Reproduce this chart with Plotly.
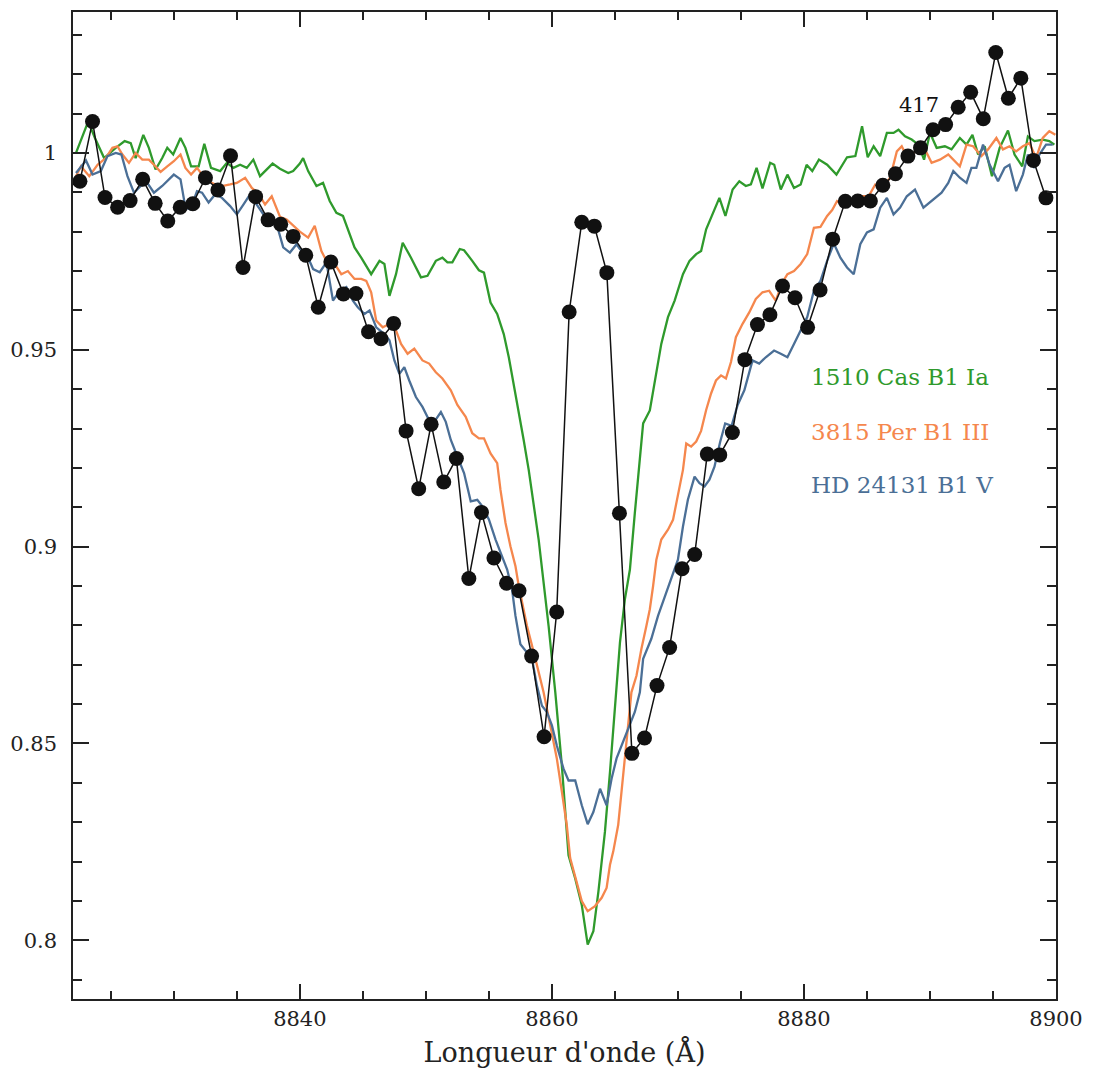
import plotly.graph_objects as go

# --- 417 : observed points (wavelength in Angstrom, normalised flux) ---
wl_417 = [8822.55, 8823.55, 8824.54, 8825.54, 8826.53, 8827.53, 8828.52, 8829.52,
          8830.51, 8831.51, 8832.51, 8833.50, 8834.50, 8835.49, 8836.49, 8837.48,
          8838.48, 8839.47, 8840.47, 8841.46, 8842.46, 8843.46, 8844.45, 8845.45,
          8846.44, 8847.44, 8848.43, 8849.43, 8850.42, 8851.42, 8852.42, 8853.41,
          8854.41, 8855.40, 8856.40, 8857.39, 8858.39, 8859.38, 8860.38, 8861.37,
          8862.37, 8863.37, 8864.36, 8865.36, 8866.35, 8867.35, 8868.34, 8869.34,
          8870.33, 8871.33, 8872.33, 8873.32, 8874.32, 8875.31, 8876.31, 8877.30,
          8878.30, 8879.29, 8880.29, 8881.28, 8882.28, 8883.28, 8884.27, 8885.27,
          8886.26, 8887.26, 8888.25, 8889.25, 8890.24, 8891.24, 8892.24, 8893.23,
          8894.23, 8895.22, 8896.22, 8897.21, 8898.21, 8899.20]
fl_417 = [0.9928, 1.0080, 0.9887, 0.9862, 0.9879, 0.9933, 0.9872, 0.9827,
          0.9862, 0.9871, 0.9937, 0.9906, 0.9993, 0.9709, 0.9889, 0.9830,
          0.9819, 0.9788, 0.9740, 0.9608, 0.9723, 0.9642, 0.9643, 0.9546,
          0.9528, 0.9567, 0.9294, 0.9147, 0.9311, 0.9164, 0.9224, 0.8919,
          0.9087, 0.8971, 0.8907, 0.8888, 0.8722, 0.8517, 0.8834, 0.9596,
          0.9824, 0.9814, 0.9696, 0.9085, 0.8475, 0.8514, 0.8647, 0.8744,
          0.8944, 0.8980, 0.9235, 0.9233, 0.9290, 0.9475, 0.9564, 0.9589,
          0.9662, 0.9632, 0.9557, 0.9652, 0.9781, 0.9877, 0.9878, 0.9878,
          0.9918, 0.9947, 0.9992, 1.0013, 1.0059, 1.0072, 1.0116, 1.0154,
          1.0087, 1.0255, 1.0139, 1.0190, 0.9981, 0.9886]

# --- 1510 Cas, B1 Ia ---
wl_cas = [8822.24, 8823.21, 8823.74, 8824.47, 8825.39, 8826.10, 8826.58, 8826.97,
          8827.58, 8828.02, 8828.55, 8829.08, 8829.48, 8829.95, 8830.53, 8830.92,
          8831.37, 8831.97, 8832.42, 8832.95, 8833.68, 8834.21, 8834.73, 8835.26,
          8835.79, 8836.31, 8836.84, 8837.37, 8837.84, 8838.42, 8839.08, 8839.47,
          8840.00, 8840.26, 8840.66, 8841.32, 8841.84, 8842.37, 8842.90, 8843.42,
          8843.95, 8844.34, 8844.87, 8845.66, 8846.32, 8846.71, 8847.11, 8847.63,
          8848.16, 8848.82, 8849.61, 8850.13, 8850.79, 8851.31, 8851.71, 8852.10,
          8852.69, 8853.03, 8853.68, 8854.21, 8854.61, 8855.13, 8855.66, 8856.18,
          8856.58, 8856.97, 8857.37, 8857.76, 8858.16, 8858.55, 8858.95, 8859.74,
          8860.27, 8860.79, 8861.32, 8861.85, 8862.37, 8862.84, 8863.29, 8863.69,
          8864.21, 8864.61, 8865.00, 8865.40, 8865.79, 8866.19, 8866.58, 8867.24,
          8867.77, 8868.16, 8868.68, 8869.21, 8869.74, 8870.40, 8870.92, 8871.45,
          8871.84, 8872.24, 8872.76, 8873.29, 8873.77, 8874.34, 8874.87, 8875.39,
          8875.79, 8876.24, 8876.71, 8877.32, 8877.64, 8878.16, 8878.69, 8879.21,
          8879.74, 8880.21, 8880.66, 8881.19, 8881.84, 8882.58, 8883.42, 8884.08,
          8884.61, 8885.06, 8885.53, 8886.05, 8886.58, 8887.11, 8887.50, 8888.02,
          8888.55, 8889.08, 8889.53, 8890.00, 8890.53, 8891.18, 8891.71, 8892.37,
          8892.90, 8893.37, 8893.82, 8894.34, 8894.92, 8895.53, 8896.19, 8896.71,
          8897.32, 8897.77, 8898.29, 8898.95, 8899.47, 8899.87]
fl_cas = [1.0000, 1.0080, 1.0038, 0.9987, 1.0013, 1.0030, 1.0025, 0.9987,
          1.0046, 1.0013, 0.9958, 0.9987, 1.0013, 0.9996, 1.0038, 1.0013,
          0.9966, 0.9966, 1.0023, 0.9962, 0.9954, 0.9975, 0.9962, 0.9970,
          0.9962, 0.9983, 0.9941, 0.9958, 0.9973, 0.9960, 0.9949, 0.9954,
          0.9973, 0.9987, 0.9954, 0.9916, 0.9924, 0.9878, 0.9848, 0.9840,
          0.9794, 0.9760, 0.9734, 0.9692, 0.9726, 0.9718, 0.9637, 0.9692,
          0.9772, 0.9734, 0.9684, 0.9688, 0.9726, 0.9734, 0.9722, 0.9722,
          0.9756, 0.9753, 0.9726, 0.9702, 0.9696, 0.9620, 0.9591, 0.9540,
          0.9481, 0.9414, 0.9338, 0.9271, 0.9195, 0.9110, 0.9018, 0.8798,
          0.8630, 0.8444, 0.8216, 0.8157, 0.8090, 0.7989, 0.8023, 0.8124,
          0.8276, 0.8428, 0.8596, 0.8756, 0.8866, 0.8942, 0.9085, 0.9313,
          0.9346, 0.9414, 0.9515, 0.9583, 0.9625, 0.9692, 0.9726, 0.9743,
          0.9751, 0.9806, 0.9848, 0.9886, 0.9840, 0.9907, 0.9928, 0.9916,
          0.9920, 0.9962, 0.9910, 0.9975, 0.9970, 0.9907, 0.9945, 0.9911,
          0.9920, 0.9970, 0.9954, 0.9983, 0.9970, 0.9945, 0.9989, 0.9992,
          1.0068, 0.9989, 1.0017, 0.9992, 1.0051, 1.0051, 1.0059, 1.0042,
          1.0034, 1.0021, 0.9983, 1.0051, 1.0013, 1.0017, 1.0009, 1.0038,
          1.0021, 1.0046, 0.9996, 1.0017, 0.9941, 1.0013, 1.0057, 0.9996,
          0.9966, 1.0042, 1.0030, 1.0034, 1.0030, 1.0021]

# --- 3815 Per, B1 III ---
wl_per = [8822.24, 8822.63, 8823.29, 8823.95, 8824.60, 8825.13, 8825.53, 8825.92,
          8826.44, 8826.97, 8827.50, 8828.02, 8828.42, 8828.95, 8829.48, 8830.00,
          8830.53, 8830.92, 8831.37, 8831.84, 8832.24, 8832.76, 8833.29, 8833.82,
          8834.47, 8835.00, 8835.66, 8836.19, 8836.71, 8837.24, 8837.77, 8838.42,
          8838.95, 8839.47, 8840.00, 8840.66, 8841.18, 8841.71, 8842.23, 8842.76,
          8843.29, 8843.81, 8844.34, 8844.87, 8845.27, 8845.66, 8846.06, 8846.58,
          8847.11, 8847.63, 8848.03, 8848.55, 8849.08, 8849.73, 8850.26, 8850.79,
          8851.31, 8851.98, 8852.50, 8853.16, 8853.68, 8854.21, 8854.61, 8855.13,
          8855.66, 8855.92, 8856.32, 8856.71, 8857.11, 8857.37, 8858.02, 8858.69,
          8859.34, 8859.87, 8860.39, 8860.79, 8861.18, 8861.45, 8861.85, 8862.37,
          8862.84, 8863.42, 8863.95, 8864.34, 8864.61, 8864.87, 8865.26, 8865.52,
          8865.79, 8866.05, 8866.31, 8866.71, 8867.10, 8867.50, 8867.77, 8868.03,
          8868.29, 8868.68, 8869.21, 8869.61, 8870.00, 8870.40, 8870.66, 8871.05,
          8871.45, 8871.84, 8872.24, 8872.63, 8873.02, 8873.42, 8873.81, 8874.21,
          8874.60, 8875.13, 8875.66, 8876.18, 8876.71, 8877.24, 8877.76, 8878.29,
          8878.69, 8879.21, 8879.74, 8880.26, 8880.79, 8881.31, 8881.84, 8882.24,
          8882.63, 8883.16, 8883.68, 8884.21, 8885.13, 8885.66, 8886.32, 8886.84,
          8887.37, 8887.76, 8888.29, 8888.95, 8889.48, 8890.13, 8890.79, 8891.45,
          8892.37, 8892.90, 8893.42, 8894.08, 8894.61, 8895.27, 8895.79, 8896.31,
          8896.84, 8897.37, 8897.89, 8898.42, 8898.95, 8899.47, 8899.95]
fl_per = [0.9941, 0.9966, 0.9941, 0.9970, 0.9987, 1.0013, 1.0017, 0.9996,
          0.9975, 1.0000, 0.9983, 0.9983, 0.9970, 0.9952, 0.9966, 0.9979,
          0.9996, 0.9962, 0.9945, 0.9962, 0.9945, 0.9928, 0.9920, 0.9916,
          0.9920, 0.9924, 0.9937, 0.9911, 0.9897, 0.9869, 0.9890, 0.9838,
          0.9831, 0.9815, 0.9800, 0.9785, 0.9815, 0.9751, 0.9718, 0.9718,
          0.9692, 0.9700, 0.9680, 0.9680, 0.9675, 0.9646, 0.9574, 0.9557,
          0.9566, 0.9549, 0.9515, 0.9490, 0.9503, 0.9473, 0.9465, 0.9443,
          0.9427, 0.9397, 0.9360, 0.9330, 0.9288, 0.9275, 0.9275, 0.9237,
          0.9212, 0.9144, 0.9060, 0.9001, 0.8950, 0.8900, 0.8799, 0.8715,
          0.8630, 0.8546, 0.8462, 0.8378, 0.8293, 0.8209, 0.8159, 0.8100,
          0.8074, 0.8087, 0.8108, 0.8133, 0.8192, 0.8226, 0.8293, 0.8378,
          0.8462, 0.8546, 0.8630, 0.8672, 0.8740, 0.8799, 0.8841, 0.8900,
          0.8967, 0.9018, 0.9043, 0.9068, 0.9128, 0.9195, 0.9262, 0.9254,
          0.9267, 0.9294, 0.9347, 0.9389, 0.9422, 0.9435, 0.9427, 0.9469,
          0.9532, 0.9566, 0.9595, 0.9629, 0.9646, 0.9650, 0.9625, 0.9671,
          0.9692, 0.9700, 0.9718, 0.9743, 0.9810, 0.9812, 0.9840, 0.9855,
          0.9878, 0.9869, 0.9878, 0.9890, 0.9890, 0.9920, 0.9916, 0.9937,
          1.0004, 1.0017, 0.9983, 1.0009, 1.0017, 0.9975, 0.9983, 0.9996,
          0.9966, 1.0021, 1.0017, 0.9992, 1.0009, 1.0038, 1.0009, 1.0017,
          1.0004, 1.0017, 1.0025, 0.9987, 1.0038, 1.0055, 1.0046]

# --- HD 24131, B1 V ---
wl_hd = [8822.24, 8823.03, 8823.55, 8824.21, 8824.74, 8825.39, 8825.84, 8826.32,
         8826.84, 8827.37, 8827.90, 8828.42, 8829.08, 8829.48, 8830.00, 8830.53,
         8830.92, 8831.32, 8831.84, 8832.24, 8832.76, 8833.29, 8833.82, 8834.47,
         8835.00, 8835.52, 8836.05, 8836.58, 8837.10, 8837.63, 8838.16, 8838.68,
         8839.21, 8839.74, 8840.00, 8840.53, 8841.05, 8841.58, 8842.11, 8842.63,
         8843.16, 8843.69, 8844.21, 8844.60, 8845.13, 8845.53, 8846.06, 8846.71,
         8847.11, 8847.50, 8847.90, 8848.29, 8848.68, 8849.21, 8849.73, 8850.26,
         8850.66, 8851.19, 8851.58, 8851.98, 8852.50, 8853.03, 8853.56, 8854.08,
         8854.47, 8855.00, 8855.53, 8856.05, 8856.45, 8856.84, 8857.11, 8857.50,
         8858.02, 8858.42, 8858.81, 8859.21, 8859.60, 8860.00, 8860.39, 8860.92,
         8861.32, 8861.85, 8862.37, 8862.84, 8863.29, 8863.82, 8864.34, 8864.74,
         8865.13, 8865.52, 8866.05, 8866.58, 8866.98, 8867.24, 8867.89, 8868.42,
         8869.08, 8869.61, 8870.00, 8870.40, 8870.79, 8871.32, 8871.71, 8872.11,
         8872.50, 8872.90, 8873.35, 8873.75, 8874.26, 8874.74, 8875.27, 8875.92,
         8876.45, 8876.97, 8877.63, 8878.16, 8878.69, 8879.21, 8879.74, 8880.26,
         8880.79, 8881.31, 8881.84, 8882.37, 8882.89, 8883.42, 8883.95, 8884.47,
         8885.00, 8885.53, 8886.05, 8886.58, 8887.11, 8887.63, 8888.16, 8888.81,
         8889.48, 8890.13, 8890.92, 8891.45, 8891.85, 8892.37, 8892.90, 8893.29,
         8893.68, 8894.21, 8894.74, 8895.40, 8895.92, 8896.31, 8896.84, 8897.37,
         8897.77, 8898.29, 8898.68, 8899.21, 8899.74]
fl_hd = [0.9949, 0.9981, 0.9945, 0.9954, 0.9992, 1.0000, 0.9996, 0.9941,
         0.9899, 0.9916, 0.9924, 0.9899, 0.9916, 0.9928, 0.9945, 0.9933,
         0.9861, 0.9857, 0.9903, 0.9899, 0.9874, 0.9895, 0.9886, 0.9865,
         0.9844, 0.9869, 0.9895, 0.9869, 0.9844, 0.9819, 0.9819, 0.9760,
         0.9747, 0.9768, 0.9756, 0.9743, 0.9705, 0.9697, 0.9722, 0.9625,
         0.9650, 0.9659, 0.9625, 0.9608, 0.9591, 0.9600, 0.9557, 0.9540,
         0.9524, 0.9473, 0.9439, 0.9456, 0.9422, 0.9380, 0.9355, 0.9321,
         0.9317, 0.9342, 0.9317, 0.9271, 0.9229, 0.9187, 0.9115, 0.9119,
         0.9103, 0.9069, 0.9018, 0.8975, 0.8942, 0.8891, 0.8824, 0.8752,
         0.8731, 0.8715, 0.8647, 0.8596, 0.8580, 0.8546, 0.8495, 0.8436,
         0.8406, 0.8406, 0.8343, 0.8295, 0.8326, 0.8385, 0.8343, 0.8411,
         0.8462, 0.8495, 0.8538, 0.8580, 0.8630, 0.8715, 0.8766, 0.8824,
         0.8884, 0.8934, 0.8967, 0.9051, 0.9119, 0.9178, 0.9161, 0.9153,
         0.9170, 0.9203, 0.9266, 0.9313, 0.9307, 0.9360, 0.9397, 0.9473,
         0.9465, 0.9481, 0.9498, 0.9490, 0.9481, 0.9515, 0.9549, 0.9583,
         0.9650, 0.9675, 0.9726, 0.9770, 0.9734, 0.9709, 0.9692, 0.9768,
         0.9798, 0.9806, 0.9861, 0.9886, 0.9844, 0.9861, 0.9890, 0.9907,
         0.9861, 0.9878, 0.9899, 0.9924, 0.9954, 0.9937, 0.9924, 0.9962,
         0.9962, 1.0021, 0.9970, 0.9928, 0.9962, 0.9970, 0.9903, 0.9945,
         0.9996, 0.9962, 0.9996, 1.0021, 1.0021]

x_ticks = [8840, 8860, 8880, 8900]
y_ticks = [0.8, 0.85, 0.9, 0.95, 1.0]
y_tick_text = ["0.8", "0.85", "0.9", "0.95", "1"]

GREEN = "#2f9a2c"
ORANGE = "#f5874d"
BLUE = "#4b6f96"
FONT = "DejaVu Serif"

fig = go.Figure()
fig.add_trace(go.Scatter(x=wl_cas, y=fl_cas, mode="lines",
                         line=dict(color=GREEN, width=2.3), name="1510 Cas B1 Ia"))
fig.add_trace(go.Scatter(x=wl_per, y=fl_per, mode="lines",
                         line=dict(color=ORANGE, width=2.3), name="3815 Per B1 III"))
fig.add_trace(go.Scatter(x=wl_hd, y=fl_hd, mode="lines",
                         line=dict(color=BLUE, width=2.3), name="HD 24131 B1 V"))
fig.add_trace(go.Scatter(x=wl_417, y=fl_417, mode="lines+markers",
                         line=dict(color="#111111", width=1.5),
                         marker=dict(color="#111111", size=15), name="417"))

# star labels placed in data coordinates
labels = [
    (8880.4, 0.9430, "1510 Cas B1 Ia", GREEN, 23),
    (8880.4, 0.9291, "3815 Per B1 III", ORANGE, 23),
    (8880.4, 0.9157, "HD 24131 B1 V", BLUE, 23),
    (8887.4, 1.0123, "417", "#111111", 21),
]
for lx, ly, txt, col, sz in labels:
    fig.add_annotation(x=lx, y=ly, text=txt, showarrow=False, xanchor="left",
                       yanchor="middle", font=dict(family=FONT, size=sz, color=col))

axis_common = dict(showline=True, linecolor="#222222", linewidth=1.5,
                   mirror="allticks", ticks="inside", tickcolor="#222222",
                   tickwidth=1.5, showgrid=False, zeroline=False,
                   tickfont=dict(family=FONT, size=21, color="#222222"))

fig.update_xaxes(range=[8822.0, 8900.0], tickvals=x_ticks, ticklen=15,
                 minor=dict(dtick=5, tick0=8820, ticklen=8, ticks="inside",
                            tickcolor="#222222", tickwidth=1.5, showgrid=False),
                 title=dict(text="Longueur d'onde (Å)", standoff=13,
                            font=dict(family=FONT, size=27, color="#222222")),
                 **axis_common)
fig.update_yaxes(range=[0.7851, 1.0358], tickvals=y_ticks, ticktext=y_tick_text,
                 ticklen=16, ticklabelstandoff=10,
                 minor=dict(dtick=0.01, tick0=0.8, ticklen=9, ticks="inside",
                            tickcolor="#222222", tickwidth=1.5, showgrid=False),
                 **axis_common)

fig.update_layout(width=1093, height=1073, showlegend=False,
                  margin=dict(l=72, r=34, t=10, b=72),
                  plot_bgcolor="white", paper_bgcolor="white")

fig.write_html("out.html")
